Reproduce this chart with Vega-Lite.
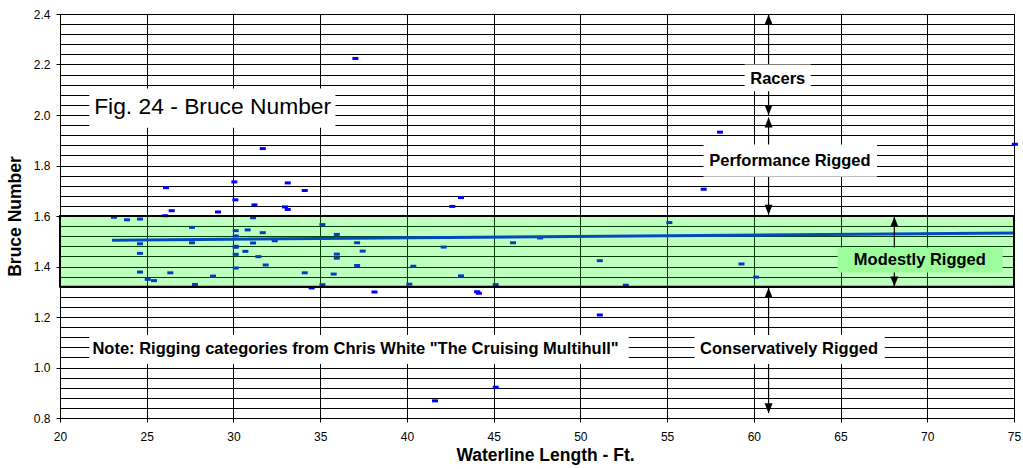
{
  "$schema": "https://vega.github.io/schema/vega-lite/v6.json",
  "width": 954,
  "height": 404,
  "autosize": "none",
  "padding": {"left": 60, "top": 14, "right": 9, "bottom": 51},
  "background": "white",
  "config": {"view": {"stroke": "black", "strokeWidth": 1}, "font": "Liberation Sans"},
  "datasets": {
    "boats": [
      {"x": 23.11, "y": 1.595}, {"x": 23.86, "y": 1.585}, {"x": 24.61, "y": 1.588}, {"x": 26.11, "y": 1.712},
      {"x": 26.44, "y": 1.621}, {"x": 26.05, "y": 1.601}, {"x": 29.11, "y": 1.616}, {"x": 30.05, "y": 1.735},
      {"x": 30.11, "y": 1.664}, {"x": 27.61, "y": 1.555}, {"x": 24.61, "y": 1.49}, {"x": 27.61, "y": 1.494},
      {"x": 24.61, "y": 1.452}, {"x": 24.61, "y": 1.378}, {"x": 26.36, "y": 1.375}, {"x": 25.06, "y": 1.349},
      {"x": 25.42, "y": 1.344}, {"x": 28.82, "y": 1.362}, {"x": 27.78, "y": 1.329}, {"x": 30.13, "y": 1.542},
      {"x": 30.13, "y": 1.521}, {"x": 30.13, "y": 1.48}, {"x": 30.13, "y": 1.476}, {"x": 30.13, "y": 1.448},
      {"x": 30.13, "y": 1.394}, {"x": 31.69, "y": 1.867}, {"x": 33.13, "y": 1.731}, {"x": 34.11, "y": 1.701},
      {"x": 31.21, "y": 1.644}, {"x": 32.97, "y": 1.636}, {"x": 33.13, "y": 1.626}, {"x": 31.13, "y": 1.593},
      {"x": 30.82, "y": 1.545}, {"x": 31.69, "y": 1.534}, {"x": 32.38, "y": 1.502}, {"x": 31.13, "y": 1.493},
      {"x": 30.69, "y": 1.46}, {"x": 31.44, "y": 1.439}, {"x": 31.86, "y": 1.406}, {"x": 34.11, "y": 1.375},
      {"x": 35.13, "y": 1.566}, {"x": 35.96, "y": 1.527}, {"x": 37.13, "y": 1.494}, {"x": 37.45, "y": 1.461},
      {"x": 35.96, "y": 1.449}, {"x": 35.96, "y": 1.433}, {"x": 37.13, "y": 1.404}, {"x": 35.78, "y": 1.37},
      {"x": 35.13, "y": 1.328}, {"x": 34.51, "y": 1.315}, {"x": 38.13, "y": 1.299}, {"x": 37.03, "y": 2.224},
      {"x": 43.12, "y": 1.673}, {"x": 42.62, "y": 1.638}, {"x": 55.13, "y": 1.574}, {"x": 57.11, "y": 1.706},
      {"x": 58.05, "y": 1.932}, {"x": 42.12, "y": 1.477}, {"x": 46.12, "y": 1.494}, {"x": 47.68, "y": 1.513},
      {"x": 40.37, "y": 1.401}, {"x": 43.12, "y": 1.363}, {"x": 51.12, "y": 1.423}, {"x": 40.14, "y": 1.33},
      {"x": 45.12, "y": 1.328}, {"x": 52.62, "y": 1.326}, {"x": 44.05, "y": 1.3}, {"x": 44.15, "y": 1.294},
      {"x": 51.12, "y": 1.208}, {"x": 45.12, "y": 0.922}, {"x": 41.62, "y": 0.868}, {"x": 75.05, "y": 1.884},
      {"x": 59.29, "y": 1.41}, {"x": 60.13, "y": 1.358}
    ],
    "trend": [{"x": 23, "y": 1.504}, {"x": 75, "y": 1.533}],
    "band": [{"x": 20, "x2": 75, "y": 1.32, "y2": 1.6}],
    "arrows": [
      {"x": 60.85, "y": 2.398, "y2": 2.0},
      {"x": 60.85, "y": 1.99, "y2": 1.605},
      {"x": 60.85, "y": 1.316, "y2": 0.819},
      {"x": 68.1, "y": 1.597, "y2": 1.321}
    ],
    "headsUp": [{"x": 60.85, "y": 2.398}, {"x": 60.85, "y": 1.99}, {"x": 60.85, "y": 1.316}, {"x": 68.1, "y": 1.597}],
    "headsDown": [{"x": 60.85, "y": 2.0}, {"x": 60.85, "y": 1.605}, {"x": 60.85, "y": 0.819}, {"x": 68.1, "y": 1.321}],
    "whiteBoxes": [
      {"x": 21.69, "x2": 35.88, "y": 1.95, "y2": 2.105},
      {"x": 21.69, "x2": 52.79, "y": 1.014, "y2": 1.129},
      {"x": 56.58, "x2": 67.55, "y": 1.014, "y2": 1.129},
      {"x": 57.1, "x2": 67.1, "y": 1.755, "y2": 1.883},
      {"x": 59.47, "x2": 63.28, "y": 2.094, "y2": 2.2}
    ],
    "greenBox": [{"x": 64.83, "x2": 74.34, "y": 1.376, "y2": 1.475}],
    "labels": [
      {"x": 61.38, "y": 2.144, "label": "Racers"},
      {"x": 62.08, "y": 1.819, "label": "Performance Rigged"},
      {"x": 69.57, "y": 1.427, "label": "Modestly Rigged"},
      {"x": 62.03, "y": 1.074, "label": "Conservatively Rigged"},
      {"x": 37.04, "y": 1.074, "label": "Note: Rigging categories from Chris White \"The Cruising Multihull\""}
    ],
    "figTitle": [{"x": 28.8, "y": 2.033, "label": "Fig. 24 - Bruce Number"}]
  },
  "encoding": {
    "x": {
      "field": "x", "type": "quantitative",
      "scale": {"domain": [20, 75], "nice": false, "zero": false},
      "axis": {
        "title": "Waterline Length - Ft.",
        "values": [20, 25, 30, 35, 40, 45, 50, 55, 60, 65, 70, 75],
        "grid": true, "gridColor": "black", "gridWidth": 1, "gridOpacity": 1,
        "tickSize": 4, "tickColor": "black", "domainColor": "black",
        "labelFont": "Liberation Sans", "labelFontSize": 12, "labelColor": "black", "labelPadding": 9, "labelFlush": false,
        "titleFont": "Liberation Sans", "titleFontSize": 17.5, "titleFontWeight": "bold", "titleColor": "black", "titlePadding": 4,
        "titleX": 485
      }
    },
    "y": {
      "field": "y", "type": "quantitative",
      "scale": {"domain": [0.8, 2.4], "nice": false, "zero": false},
      "axis": {
        "title": "Bruce Number",
        "values": [0.8, 0.84, 0.88, 0.92, 0.96, 1.0, 1.04, 1.08, 1.12, 1.16, 1.2, 1.24, 1.28, 1.32, 1.36, 1.4, 1.44, 1.48, 1.52, 1.56, 1.6, 1.64, 1.68, 1.72, 1.76, 1.8, 1.84, 1.88, 1.92, 1.96, 2.0, 2.04, 2.08, 2.12, 2.16, 2.2, 2.24, 2.28, 2.32, 2.36, 2.4],
        "labelExpr": "abs(datum.value*5 - round(datum.value*5)) < 0.001 ? format(datum.value, '.1f') : ''",
        "tickOpacity": {"condition": {"test": "abs(datum.value*5 - round(datum.value*5)) < 0.001", "value": 1}, "value": 0},
        "labelOverlap": false, "labelFlush": false,
        "grid": true, "gridColor": "black", "gridWidth": 1, "gridOpacity": 1,
        "tickSize": 4, "tickColor": "black", "domainColor": "black",
        "labelFont": "Liberation Sans", "labelFontSize": 12, "labelColor": "black", "labelPadding": 6,
        "titleFont": "Liberation Sans", "titleFontSize": 17.5, "titleFontWeight": "bold", "titleColor": "black", "titlePadding": 9
      }
    }
  },
  "layer": [
    {
      "data": {"name": "boats"},
      "mark": {"type": "point", "shape": "M-1,-0.5L1,-0.5L1,0.5L-1,0.5Z", "size": 36, "filled": true, "color": "#0000ff", "opacity": 1, "strokeWidth": 0}
    },
    {
      "data": {"name": "trend"},
      "mark": {"type": "line", "color": "#0010ff", "strokeWidth": 3}
    },
    {
      "data": {"name": "band"},
      "mark": {"type": "rect", "fill": "#00ff00", "fillOpacity": 0.25, "strokeWidth": 0},
      "encoding": {"x2": {"field": "x2"}, "y2": {"field": "y2"}}
    },
    {
      "data": {"name": "band"},
      "mark": {"type": "rect", "fill": "#000000", "fillOpacity": 0, "stroke": "black", "strokeWidth": 2},
      "encoding": {"x2": {"field": "x2"}, "y2": {"field": "y2"}}
    },
    {
      "data": {"name": "arrows"},
      "mark": {"type": "rule", "color": "black", "strokeWidth": 1.2},
      "encoding": {"y2": {"field": "y2"}}
    },
    {
      "data": {"name": "headsUp"},
      "mark": {"type": "point", "shape": "M0,0L-1,2.5L1,2.5Z", "size": 64, "filled": true, "color": "black", "opacity": 1, "strokeWidth": 0}
    },
    {
      "data": {"name": "headsDown"},
      "mark": {"type": "point", "shape": "M0,0L-1,-2.5L1,-2.5Z", "size": 64, "filled": true, "color": "black", "opacity": 1, "strokeWidth": 0}
    },
    {
      "data": {"name": "whiteBoxes"},
      "mark": {"type": "rect", "fill": "white", "strokeWidth": 0},
      "encoding": {"x2": {"field": "x2"}, "y2": {"field": "y2"}}
    },
    {
      "data": {"name": "greenBox"},
      "mark": {"type": "rect", "fill": "#9cfc9c", "strokeWidth": 0},
      "encoding": {"x2": {"field": "x2"}, "y2": {"field": "y2"}}
    },
    {
      "data": {"name": "labels"},
      "mark": {"type": "text", "font": "Liberation Sans", "fontSize": 16.5, "fontWeight": "bold", "color": "black", "align": "center", "baseline": "middle"},
      "encoding": {"text": {"field": "label"}}
    },
    {
      "data": {"name": "figTitle"},
      "mark": {"type": "text", "font": "Liberation Sans", "fontSize": 22.8, "fontWeight": "normal", "color": "black", "align": "center", "baseline": "middle"},
      "encoding": {"text": {"field": "label"}}
    }
  ]
}
